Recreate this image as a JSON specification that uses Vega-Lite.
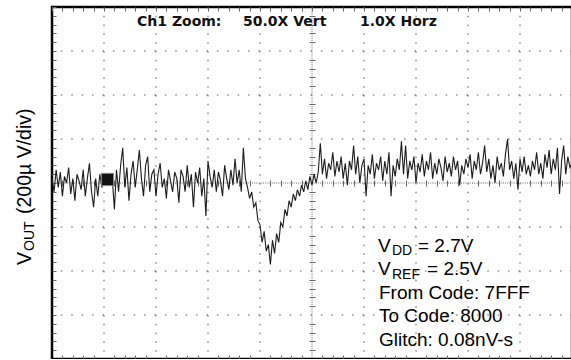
{
 "$schema": "https://vega.github.io/schema/vega-lite/v6.json",
 "width": 520, "height": 352,
 "autosize": {"type": "none"},
 "padding": {"left": 52, "top": 7, "right": 0, "bottom": 0},
 "background": "white",
 "config": {
  "view": {"stroke": "#000", "strokeWidth": 2.5},
  "axis": {"labels": false, "title": null, "domain": false, "grid": false, "tickColor": "#666", "tickWidth": 1}
 },
 "datasets": {
  "trace": [
{"t":0,"v":0.1},{"t":0.04,"v":-0.2},{"t":0.08,"v":0.3},{"t":0.12,"v":-0.1},{"t":0.16,"v":0.25},{"t":0.2,"v":-0.3},{"t":0.24,"v":0.15},{"t":0.28,"v":0.0},{"t":0.32,"v":0.35},{"t":0.36,"v":-0.25},
{"t":0.4,"v":0.1},{"t":0.44,"v":-0.4},{"t":0.48,"v":0.2},{"t":0.52,"v":0.05},{"t":0.56,"v":-0.15},{"t":0.6,"v":0.3},{"t":0.64,"v":-0.3},{"t":0.68,"v":0.1},{"t":0.72,"v":0.45},{"t":0.76,"v":-0.2},
{"t":0.8,"v":-0.55},{"t":0.84,"v":0.1},{"t":0.88,"v":-0.3},{"t":0.92,"v":0.2},{"t":0.96,"v":-0.1},{"t":1.0,"v":0.1},{"t":1.04,"v":0.2},{"t":1.08,"v":0.05},{"t":1.12,"v":0.2},{"t":1.16,"v":0.1},
{"t":1.2,"v":-0.6},{"t":1.24,"v":0.3},{"t":1.28,"v":-0.2},{"t":1.32,"v":0.4},{"t":1.36,"v":0.8},{"t":1.4,"v":-0.1},{"t":1.44,"v":0.35},{"t":1.48,"v":-0.4},{"t":1.52,"v":0.2},{"t":1.56,"v":0.5},
{"t":1.6,"v":-0.1},{"t":1.64,"v":0.3},{"t":1.68,"v":0.75},{"t":1.72,"v":0.1},{"t":1.76,"v":-0.3},{"t":1.8,"v":0.4},{"t":1.84,"v":0.6},{"t":1.88,"v":-0.2},{"t":1.92,"v":0.2},{"t":1.96,"v":0.3},
{"t":2.0,"v":-0.3},{"t":2.04,"v":0.2},{"t":2.08,"v":0.45},{"t":2.12,"v":-0.1},{"t":2.16,"v":0.1},{"t":2.2,"v":-0.35},{"t":2.24,"v":0.3},{"t":2.28,"v":0.05},{"t":2.32,"v":-0.2},{"t":2.36,"v":0.25},
{"t":2.4,"v":0.1},{"t":2.44,"v":-0.45},{"t":2.48,"v":0.3},{"t":2.52,"v":0.15},{"t":2.56,"v":-0.2},{"t":2.6,"v":0.4},{"t":2.64,"v":-0.1},{"t":2.68,"v":0.2},{"t":2.72,"v":-0.55},{"t":2.76,"v":0.25},
{"t":2.8,"v":0.0},{"t":2.84,"v":0.35},{"t":2.88,"v":-0.3},{"t":2.92,"v":0.1},{"t":2.96,"v":-0.75},{"t":3.0,"v":0.5},{"t":3.04,"v":0.15},{"t":3.08,"v":-0.1},{"t":3.12,"v":0.3},{"t":3.16,"v":-0.2},
{"t":3.2,"v":0.25},{"t":3.24,"v":0.05},{"t":3.28,"v":-0.3},{"t":3.32,"v":0.4},{"t":3.36,"v":0.1},{"t":3.4,"v":-0.15},{"t":3.44,"v":0.3},{"t":3.48,"v":-0.05},{"t":3.52,"v":0.55},{"t":3.56,"v":0.0},
{"t":3.6,"v":0.3},{"t":3.64,"v":-0.2},{"t":3.68,"v":0.8},{"t":3.72,"v":0.1},{"t":3.76,"v":-0.1},{"t":3.8,"v":-0.35},{"t":3.84,"v":-0.2},{"t":3.88,"v":-0.55},{"t":3.92,"v":-0.45},{"t":3.96,"v":-0.85},
{"t":4.0,"v":-0.95},{"t":4.04,"v":-1.35},{"t":4.08,"v":-1.1},{"t":4.12,"v":-1.55},{"t":4.16,"v":-1.4},{"t":4.2,"v":-1.85},{"t":4.24,"v":-1.3},{"t":4.28,"v":-1.6},{"t":4.32,"v":-1.15},{"t":4.36,"v":-1.35},
{"t":4.4,"v":-0.9},{"t":4.44,"v":-1.0},{"t":4.48,"v":-0.6},{"t":4.52,"v":-0.75},{"t":4.56,"v":-0.4},{"t":4.6,"v":-0.55},{"t":4.64,"v":-0.25},{"t":4.68,"v":-0.4},{"t":4.72,"v":-0.15},{"t":4.76,"v":-0.3},
{"t":4.8,"v":-0.05},{"t":4.84,"v":-0.2},{"t":4.88,"v":0.05},{"t":4.92,"v":-0.15},{"t":4.96,"v":0.15},{"t":5.0,"v":-0.05},{"t":5.04,"v":0.2},{"t":5.08,"v":0.0},{"t":5.12,"v":0.25},{"t":5.16,"v":0.9},
{"t":5.2,"v":0.2},{"t":5.24,"v":0.55},{"t":5.28,"v":0.1},{"t":5.32,"v":0.45},{"t":5.36,"v":0.3},{"t":5.4,"v":0.7},{"t":5.44,"v":0.15},{"t":5.48,"v":0.5},{"t":5.52,"v":0.25},{"t":5.56,"v":0.6},
{"t":5.6,"v":0.1},{"t":5.64,"v":0.45},{"t":5.68,"v":-0.05},{"t":5.72,"v":0.5},{"t":5.76,"v":0.3},{"t":5.8,"v":0.85},{"t":5.84,"v":0.2},{"t":5.88,"v":0.6},{"t":5.92,"v":0.0},{"t":5.96,"v":0.4},
{"t":6.0,"v":0.55},{"t":6.04,"v":-0.3},{"t":6.08,"v":0.4},{"t":6.12,"v":0.2},{"t":6.16,"v":0.65},{"t":6.2,"v":0.1},{"t":6.24,"v":0.45},{"t":6.28,"v":0.3},{"t":6.32,"v":0.6},{"t":6.36,"v":0.05},
{"t":6.4,"v":0.5},{"t":6.44,"v":0.2},{"t":6.48,"v":0.7},{"t":6.52,"v":-0.3},{"t":6.56,"v":0.4},{"t":6.6,"v":0.15},{"t":6.64,"v":0.55},{"t":6.68,"v":0.3},{"t":6.72,"v":0.95},{"t":6.76,"v":0.2},
{"t":6.8,"v":0.85},{"t":6.84,"v":0.1},{"t":6.88,"v":0.5},{"t":6.92,"v":0.3},{"t":6.96,"v":0.6},{"t":7.0,"v":0.0},{"t":7.04,"v":0.45},{"t":7.08,"v":0.25},{"t":7.12,"v":0.65},{"t":7.16,"v":0.15},
{"t":7.2,"v":0.5},{"t":7.24,"v":0.3},{"t":7.28,"v":0.7},{"t":7.32,"v":0.1},{"t":7.36,"v":0.45},{"t":7.4,"v":0.2},{"t":7.44,"v":0.55},{"t":7.48,"v":0.35},{"t":7.52,"v":0.05},{"t":7.56,"v":0.6},
{"t":7.6,"v":0.25},{"t":7.64,"v":0.45},{"t":7.68,"v":0.15},{"t":7.72,"v":0.6},{"t":7.76,"v":0.3},{"t":7.8,"v":0.5},{"t":7.84,"v":-0.05},{"t":7.88,"v":0.4},{"t":7.92,"v":0.2},{"t":7.96,"v":0.55},
{"t":8.0,"v":0.35},{"t":8.04,"v":0.65},{"t":8.08,"v":0.1},{"t":8.12,"v":0.5},{"t":8.16,"v":0.3},{"t":8.2,"v":0.7},{"t":8.24,"v":0.2},{"t":8.28,"v":0.45},{"t":8.32,"v":0.85},{"t":8.36,"v":0.25},
{"t":8.4,"v":0.55},{"t":8.44,"v":0.1},{"t":8.48,"v":0.4},{"t":8.52,"v":0.0},{"t":8.56,"v":0.6},{"t":8.6,"v":0.3},{"t":8.64,"v":0.45},{"t":8.68,"v":0.15},{"t":8.72,"v":0.65},{"t":8.76,"v":1.0},
{"t":8.8,"v":0.3},{"t":8.84,"v":0.5},{"t":8.88,"v":0.1},{"t":8.92,"v":0.45},{"t":8.96,"v":-0.15},{"t":9.0,"v":0.55},{"t":9.04,"v":0.25},{"t":9.08,"v":0.6},{"t":9.12,"v":0.2},{"t":9.16,"v":0.4},
{"t":9.2,"v":0.15},{"t":9.24,"v":0.5},{"t":9.28,"v":0.3},{"t":9.32,"v":0.7},{"t":9.36,"v":0.2},{"t":9.4,"v":0.45},{"t":9.44,"v":0.1},{"t":9.48,"v":0.65},{"t":9.52,"v":0.35},{"t":9.56,"v":0.75},
{"t":9.6,"v":0.2},{"t":9.64,"v":0.55},{"t":9.68,"v":0.3},{"t":9.72,"v":0.8},{"t":9.76,"v":-0.25},{"t":9.8,"v":0.5},{"t":9.84,"v":0.85},{"t":9.88,"v":0.2},{"t":9.92,"v":0.6},{"t":9.96,"v":0.35},{"t":10.0,"v":0.45}
  ]
 },
 "resolve": {"axis": {"x": "independent", "y": "independent"}},
 "layer": [
  {
   "data": {"values": [{"t":1},{"t":2},{"t":3},{"t":4},{"t":6},{"t":7},{"t":8},{"t":9}]},
   "mark": {"type": "rule", "stroke": "#555", "strokeWidth": 1, "strokeDash": [1.5, 7.3]},
   "encoding": {"x": {"field": "t", "type": "quantitative", "scale": {"domain": [0, 10], "nice": false, "zero": false}, "axis": null}}
  },
  {
   "data": {"values": [{"v":-3},{"v":-2},{"v":-1},{"v":1},{"v":2},{"v":3}]},
   "mark": {"type": "rule", "stroke": "#555", "strokeWidth": 1, "strokeDash": [1.5, 8.9]},
   "encoding": {"y": {"field": "v", "type": "quantitative", "scale": {"domain": [-4, 4], "nice": false, "zero": false}, "axis": null}}
  },
  {
   "data": {"values": [{"t":5}]},
   "mark": {"type": "rule", "stroke": "#666", "strokeWidth": 1, "strokeDash": [1, 1.2]},
   "encoding": {"x": {"field": "t", "type": "quantitative", "scale": {"domain": [0, 10], "nice": false, "zero": false}, "axis": null}}
  },
  {
   "data": {"values": [{"v":0}]},
   "mark": {"type": "rule", "stroke": "#666", "strokeWidth": 1, "strokeDash": [1, 1.2]},
   "encoding": {"y": {"field": "v", "type": "quantitative", "scale": {"domain": [-4, 4], "nice": false, "zero": false}, "axis": null}}
  },
  {
   "data": {"name": "trace"},
   "mark": {"type": "line", "stroke": "#1c1c1c", "strokeWidth": 1.1, "interpolate": "linear"},
   "encoding": {
    "x": {"field": "t", "type": "quantitative", "scale": {"domain": [0, 10], "nice": false, "zero": false},
          "axis": {"orient": "top", "tickSize": -4, "values": [0,0.2,0.4,0.6,0.8,1,1.2,1.4,1.6,1.8,2,2.2,2.4,2.6,2.8,3,3.2,3.4,3.6,3.8,4,4.2,4.4,4.6,4.8,5,5.2,5.4,5.6,5.8,6,6.2,6.4,6.6,6.8,7,7.2,7.4,7.6,7.8,8,8.2,8.4,8.6,8.8,9,9.2,9.4,9.6,9.8,10]}},
    "y": {"field": "v", "type": "quantitative", "scale": {"domain": [-4, 4], "nice": false, "zero": false},
          "axis": {"orient": "left", "tickSize": -4, "values": [-4,-3.8,-3.6,-3.4,-3.2,-3,-2.8,-2.6,-2.4,-2.2,-2,-1.8,-1.6,-1.4,-1.2,-1,-0.8,-0.6,-0.4,-0.2,0,0.2,0.4,0.6,0.8,1,1.2,1.4,1.6,1.8,2,2.2,2.4,2.6,2.8,3,3.2,3.4,3.6,3.8,4]}}
   }
  },
  {
   "data": {"values": [{"t": 1.067, "v": 0.08}]},
   "mark": {"type": "point", "shape": "square", "size": 150, "filled": true, "fill": "#111", "stroke": "#888", "strokeWidth": 1, "opacity": 1},
   "encoding": {
    "x": {"field": "t", "type": "quantitative", "scale": {"domain": [0, 10], "nice": false, "zero": false}, "axis": null},
    "y": {"field": "v", "type": "quantitative", "scale": {"domain": [-4, 4], "nice": false, "zero": false}, "axis": null}
   }
  },
  {
   "data": {"values": [
     {"t": 1.635, "v": 3.568, "s": "Ch1 Zoom:"},
     {"t": 3.673, "v": 3.568, "s": "50.0X Vert"},
     {"t": 5.923, "v": 3.568, "s": "1.0X Horz"}
   ]},
   "mark": {"type": "text", "align": "left", "baseline": "alphabetic", "font": "DejaVu Sans", "fontSize": 14, "fontWeight": "bold", "fill": "#111"},
   "encoding": {
    "x": {"field": "t", "type": "quantitative", "scale": {"domain": [0, 10], "nice": false, "zero": false},
          "axis": {"orient": "bottom", "offset": -179, "tickSize": 6, "values": [0.2,0.4,0.6,0.8,1.2,1.4,1.6,1.8,2.2,2.4,2.6,2.8,3.2,3.4,3.6,3.8,4.2,4.4,4.6,4.8,5.2,5.4,5.6,5.8,6.2,6.4,6.6,6.8,7.2,7.4,7.6,7.8,8.2,8.4,8.6,8.8,9.2,9.4,9.6,9.8]}},
    "y": {"field": "v", "type": "quantitative", "scale": {"domain": [-4, 4], "nice": false, "zero": false},
          "axis": {"orient": "right", "offset": -263, "tickSize": 6, "values": [-3.8,-3.6,-3.4,-3.2,-2.8,-2.6,-2.4,-2.2,-1.8,-1.6,-1.4,-1.2,-0.8,-0.6,-0.4,-0.2,0.2,0.4,0.6,0.8,1.2,1.4,1.6,1.8,2.2,2.4,2.6,2.8,3.2,3.4,3.6,3.8]}},
    "text": {"field": "s"}
   }
  },
  {
   "data": {"values": [
     {"t": 6.269, "v": -1.568, "s": "V"},
     {"t": 7.038, "v": -1.568, "s": "= 2.7V"},
     {"t": 6.269, "v": -2.091, "s": "V"},
     {"t": 7.212, "v": -2.091, "s": "= 2.5V"},
     {"t": 6.288, "v": -2.636, "s": "From Code: 7FFF"},
     {"t": 6.288, "v": -3.159, "s": "To Code: 8000"},
     {"t": 6.288, "v": -3.705, "s": "Glitch: 0.08nV-s"}
   ]},
   "mark": {"type": "text", "align": "left", "baseline": "alphabetic", "font": "Liberation Sans", "fontSize": 19, "fill": "#000"},
   "encoding": {
    "x": {"field": "t", "type": "quantitative", "scale": {"domain": [0, 10], "nice": false, "zero": false},
          "axis": {"orient": "bottom", "offset": 0, "tickSize": -4, "values": [0.2,0.4,0.6,0.8,1.2,1.4,1.6,1.8,2.2,2.4,2.6,2.8,3.2,3.4,3.6,3.8,4.2,4.4,4.6,4.8,5.2,5.4,5.6,5.8,6.2,6.4,6.6,6.8,7.2,7.4,7.6,7.8,8.2,8.4,8.6,8.8,9.2,9.4,9.6,9.8]}},
    "y": {"field": "v", "type": "quantitative", "scale": {"domain": [-4, 4], "nice": false, "zero": false}, "axis": null},
    "text": {"field": "s"}
   }
  },
  {
   "data": {"values": [
     {"t": 6.538, "v": -1.636, "s": "DD"},
     {"t": 6.538, "v": -2.182, "s": "REF"}
   ]},
   "mark": {"type": "text", "align": "left", "baseline": "alphabetic", "font": "Liberation Sans", "fontSize": 14, "fill": "#000"},
   "encoding": {
    "x": {"field": "t", "type": "quantitative", "scale": {"domain": [0, 10], "nice": false, "zero": false}, "axis": null},
    "y": {"field": "v", "type": "quantitative", "scale": {"domain": [-4, 4], "nice": false, "zero": false}, "axis": null},
    "text": {"field": "s"}
   }
  },
  {
   "data": {"values": [
     {"t": -0.404, "v": -1.864, "s": "V"},
     {"t": -0.404, "v": -0.705, "s": "(200µ V/div)"}
   ]},
   "mark": {"type": "text", "align": "left", "baseline": "alphabetic", "angle": 270, "font": "Liberation Sans", "fontSize": 19.5, "fill": "#000"},
   "encoding": {
    "x": {"field": "t", "type": "quantitative", "scale": {"domain": [0, 10], "nice": false, "zero": false}, "axis": null},
    "y": {"field": "v", "type": "quantitative", "scale": {"domain": [-4, 4], "nice": false, "zero": false}, "axis": null},
    "text": {"field": "s"}
   }
  },
  {
   "data": {"values": [
     {"t": -0.346, "v": -1.545, "s": "OUT"}
   ]},
   "mark": {"type": "text", "align": "left", "baseline": "alphabetic", "angle": 270, "font": "Liberation Sans", "fontSize": 14, "fill": "#000"},
   "encoding": {
    "x": {"field": "t", "type": "quantitative", "scale": {"domain": [0, 10], "nice": false, "zero": false}, "axis": null},
    "y": {"field": "v", "type": "quantitative", "scale": {"domain": [-4, 4], "nice": false, "zero": false}, "axis": null},
    "text": {"field": "s"}
   }
  }
 ]
}
